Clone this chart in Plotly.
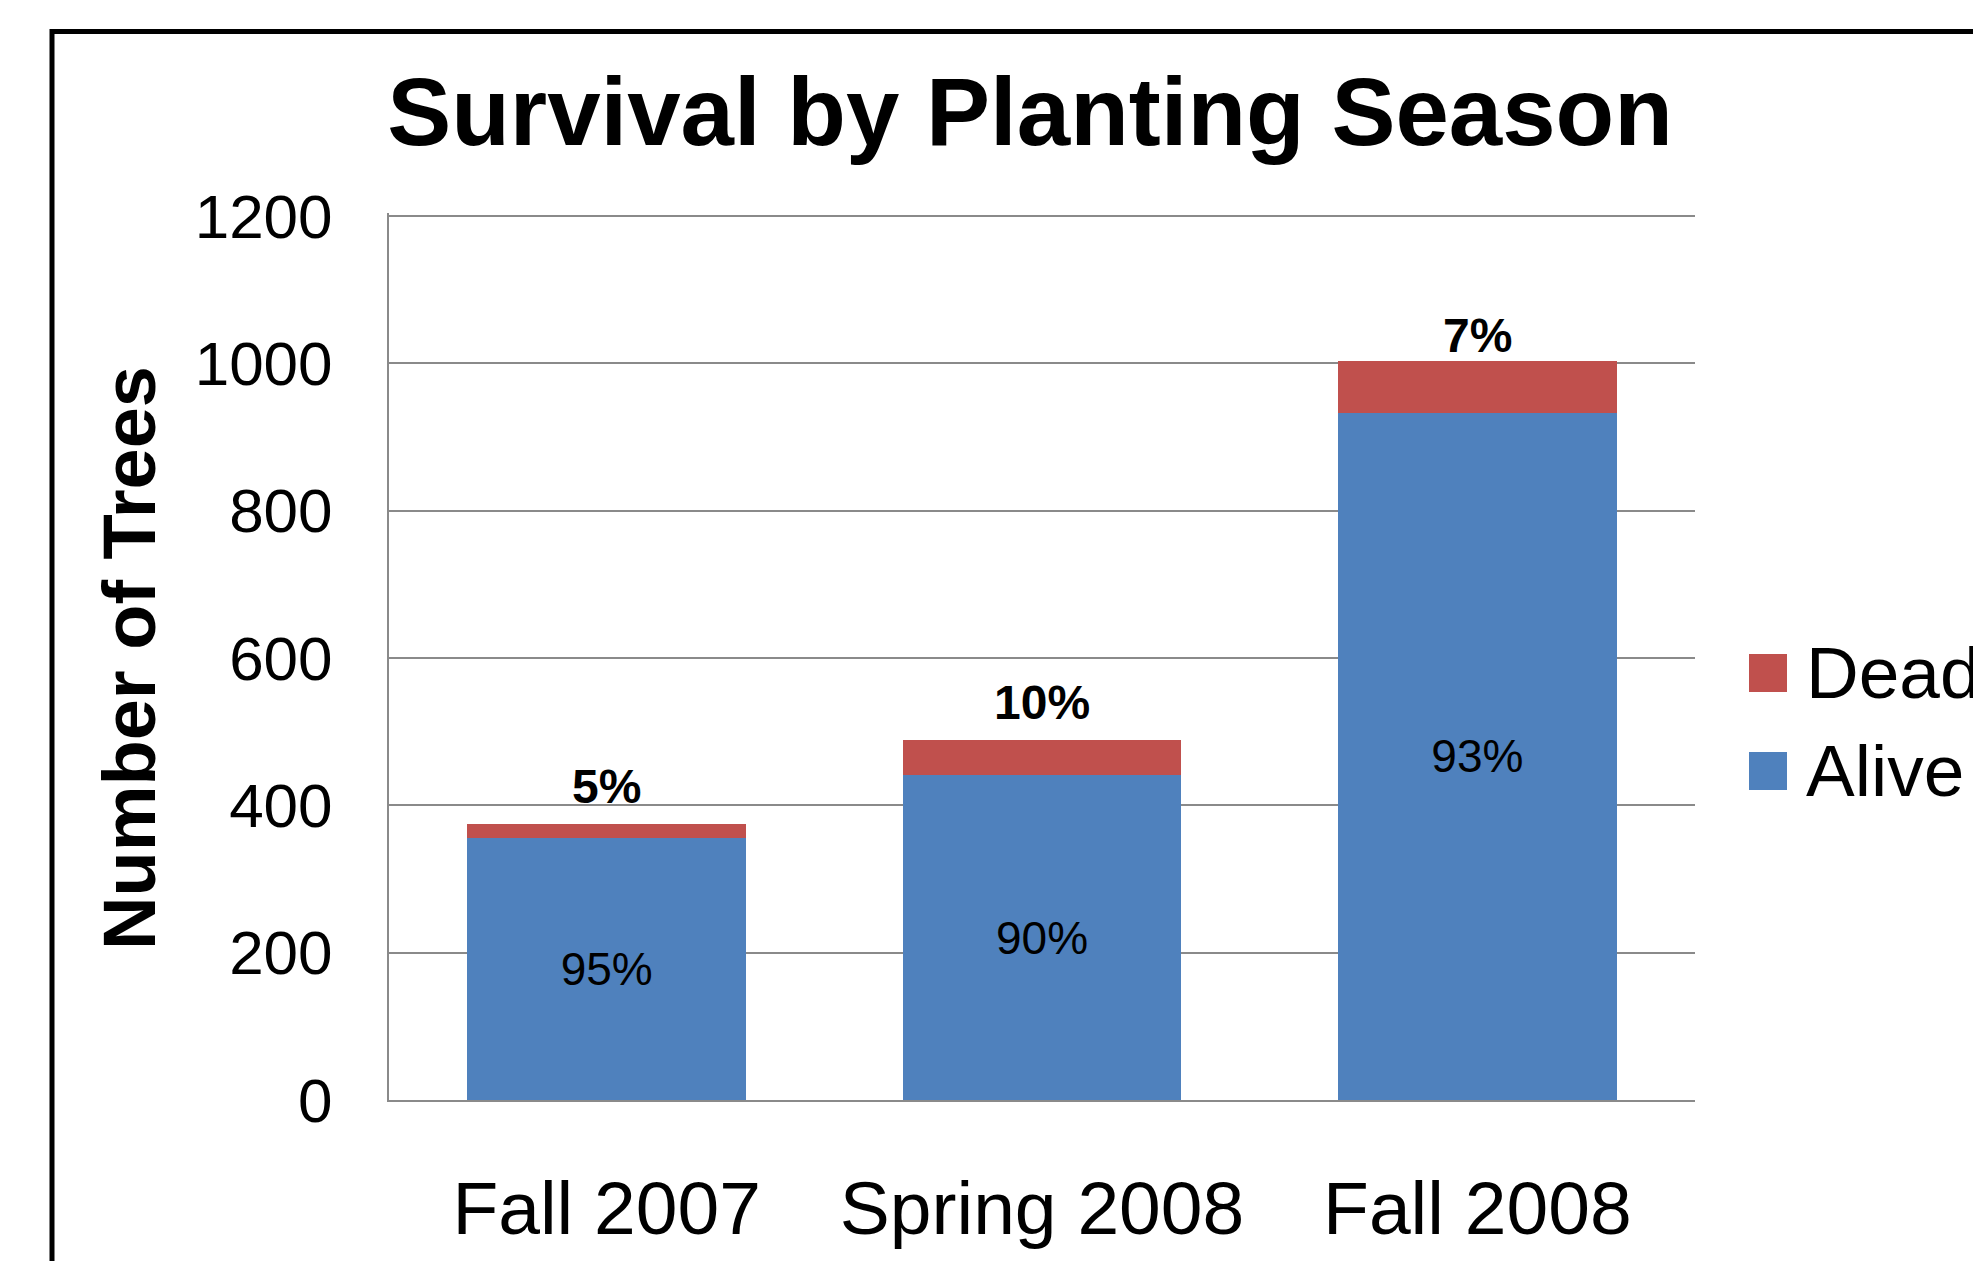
import plotly.graph_objects as go

# Tree counts per planting season
seasons = ["Fall 2007", "Spring 2008", "Fall 2008"]
alive = [355, 441, 933]
dead = [20, 48, 70]
y_ticks = [0, 200, 400, 600, 800, 1000, 1200]

totals = [a + d for a, d in zip(alive, dead)]
alive_pct = [f"{round(100 * a / t)}%" for a, t in zip(alive, totals)]
dead_pct = [f"{round(100 * d / t)}%" for d, t in zip(dead, totals)]

BLUE = "#4F81BD"
RED = "#C0504D"
GRID = "#8A8A8A"
FONT = "Liberation Sans, Arial, sans-serif"

W, H = 1973, 1261
L, R, B = 389, 1695, 1100      # plot area edges in pixels
TOP_TICK_PX = 216              # pixel row of the highest tick
Y_MAX = 1204                   # a little headroom so the top gridline is drawn
T = B - (B - TOP_TICK_PX) * Y_MAX / y_ticks[-1]


def px_x(x):
    return (x - L) / (R - L)


def px_y(y):
    return (B - y) / (B - T)


fig = go.Figure()
fig.add_trace(go.Bar(
    x=seasons, y=alive, name="Alive", marker=dict(color=BLUE, line=dict(width=0)),
    text=alive_pct, textposition="inside", insidetextanchor="middle",
    textfont=dict(family=FONT, size=46, color="black"), textangle=0,
    showlegend=False,
))
fig.add_trace(go.Bar(
    x=seasons, y=dead, name="Dead", marker=dict(color=RED, line=dict(width=0)),
    showlegend=False,
))

# Share of dead trees, printed above each stack
label_shift = [9, 9, -3]
for season, total, pct, dy in zip(seasons, totals, dead_pct, label_shift):
    fig.add_annotation(x=season, y=total, xref="x", yref="y", text=f"<b>{pct}</b>",
                       showarrow=False, yanchor="bottom", xanchor="center", yshift=dy,
                       font=dict(family=FONT, size=48, color="black"))

# Chart frame
fig.add_shape(type="rect", xref="paper", yref="paper",
              x0=px_x(52), x1=px_x(2100), y0=px_y(1400), y1=px_y(31.5),
              line=dict(color="black", width=5), fillcolor="rgba(0,0,0,0)", layer="below")

# Legend drawn as swatches and labels
legend_items = [("Dead", RED, 673), ("Alive", BLUE, 771)]
for label, color, cy in legend_items:
    fig.add_shape(type="rect", xref="paper", yref="paper",
                  x0=px_x(1749), x1=px_x(1787), y0=px_y(cy + 19), y1=px_y(cy - 19),
                  line=dict(width=0), fillcolor=color)
    fig.add_annotation(xref="paper", yref="paper", x=px_x(1804), y=px_y(cy),
                       xanchor="left", yanchor="middle", text=label, showarrow=False,
                       font=dict(family=FONT, size=73, color="black"))

# Y-axis title
fig.add_annotation(xref="paper", yref="paper", x=px_x(130), y=px_y(658),
                   xanchor="center", yanchor="middle", text="<b>Number of Trees</b>",
                   textangle=-90, showarrow=False,
                   font=dict(family=FONT, size=74, color="black"))

fig.update_layout(
    width=W, height=H,
    margin=dict(l=L, r=W - R, t=T, b=H - B, autoexpand=False),
    paper_bgcolor="white", plot_bgcolor="white",
    barmode="stack", bargap=0.36,
    title=dict(text="<b>Survival by Planting Season</b>", x=1030 / W, xanchor="center",
               xref="container", y=1 - 111 / H, yanchor="middle",
               font=dict(family=FONT, size=96, color="black")),
)
fig.update_xaxes(
    showline=True, linecolor=GRID, linewidth=2, showgrid=False, ticks="",
    tickfont=dict(family=FONT, size=75, color="black"), ticklabelstandoff=42,
)
fig.update_yaxes(
    range=[0, Y_MAX], tickvals=y_ticks, showline=True, linecolor=GRID, linewidth=2,
    showgrid=True, gridcolor=GRID, gridwidth=2, zeroline=False, ticks="",
    tickfont=dict(family=FONT, size=62, color="black"), ticklabelstandoff=42,
)

fig.write_html("out.html")
